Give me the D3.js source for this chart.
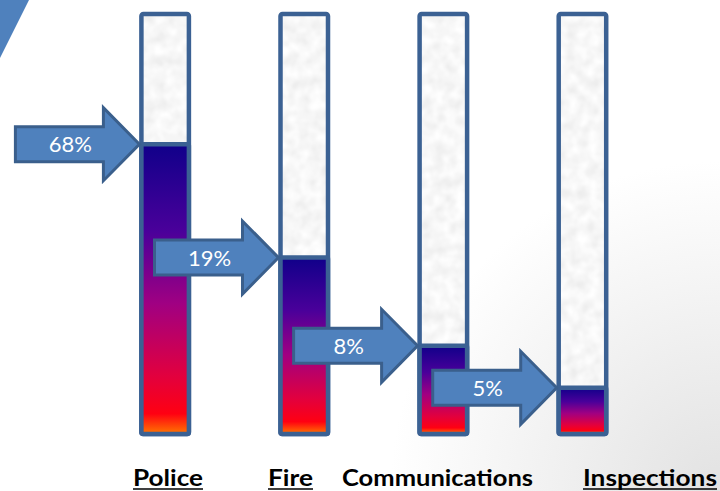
<!DOCTYPE html>
<html lang='en'>
	<head>
		<meta charset='utf-8'>
		<title>Share by department</title>
		<script src="https://d3js.org/d3.v7.min.js"></script>
		<style type="text/css">
			body { margin: 0; background: #fff; }
			svg { display: block; }
		</style>
	</head>
	<body>
		<script type='text/javascript'>
			//Data
			var departments = ["Police", "Fire", "Communications", "Inspections"];
			var shares = [68, 19, 8, 5];                // arrow labels, %
			var fillLevels = [0.69, 0.42, 0.21, 0.11];  // level of the coloured fill
			var underlined = [true, true, false, true];

			//Width and height
			var w = 720;
			var h = 491;

			var svg = d3.select("body")
						.append("svg")
						.attr("width", w)
						.attr("height", h);

			var defs = svg.append("defs");

			//Background: white, greying towards the bottom right corner
			var bg = defs.append("radialGradient")
						 .attr("id", "bg")
						 .attr("gradientUnits", "userSpaceOnUse")
						 .attr("cx", w).attr("cy", h).attr("r", 330);
			bg.append("stop").attr("offset", 0).attr("stop-color", "#e2e2e2");
			bg.append("stop").attr("offset", 1).attr("stop-color", "#ffffff");
			svg.append("rect").attr("width", w).attr("height", h).attr("fill", "url(#bg)");

			//Corner triangle
			svg.append("path")
			   .attr("d", "M0,0L29,0L0,58Z")
			   .attr("fill", "#4f81bd");

			//Fill gradient (blue -> purple -> red -> orange)
			var grad = defs.append("linearGradient")
						   .attr("id", "heat")
						   .attr("x1", 0).attr("y1", 0).attr("x2", 0).attr("y2", 1);
			[[0, "#10008a"], [0.3, "#4a009a"], [0.55, "#a00082"], [0.8, "#e2003e"],
			 [0.93, "#ff0012"], [1, "#ff7800"]].forEach(function(s) {
				grad.append("stop").attr("offset", s[0]).attr("stop-color", s[1]);
			});

			//Mottled grey texture for the empty part
			var tex = defs.append("filter")
						  .attr("id", "tex")
						  .attr("x", 0).attr("y", 0).attr("width", 1).attr("height", 1);
			tex.append("feTurbulence")
			   .attr("type", "fractalNoise")
			   .attr("baseFrequency", 0.09)
			   .attr("numOctaves", 3)
			   .attr("seed", 4);
			tex.append("feColorMatrix")
			   .attr("type", "matrix")
			   .attr("values", "0.26 0 0 0 0.8  0.26 0 0 0 0.8  0.26 0 0 0 0.8  0 0 0 0 1");
			tex.append("feGaussianBlur").attr("stdDeviation", 0.8);

			//Scales
			var x = d3.scaleBand()
					  .domain(departments)
					  .range([141.4, 606.2])
					  .paddingInner(0.6585)
					  .paddingOuter(0);

			var y = d3.scaleLinear()
					  .domain([0, 1])
					  .range([434, 14]);

			var border = "#3b6193";
			var bw = 4.5;

			var bars = svg.selectAll("g.bar")
						  .data(departments)
						  .enter()
						  .append("g")
						  .attr("class", "bar");

			//Empty tube
			bars.append("rect")
				.attr("x", function(d) { return x(d); })
				.attr("y", y(1))
				.attr("width", x.bandwidth())
				.attr("height", y(0) - y(1))
				.attr("filter", "url(#tex)");
			bars.append("rect")
				.attr("x", function(d) { return x(d); })
				.attr("y", y(1))
				.attr("width", x.bandwidth())
				.attr("height", y(0) - y(1))
				.attr("rx", 2)
				.attr("fill", "none")
				.attr("stroke", border)
				.attr("stroke-width", bw);

			//Coloured fill
			bars.append("rect")
				.attr("x", function(d) { return x(d); })
				.attr("y", function(d, i) { return y(fillLevels[i]); })
				.attr("width", x.bandwidth())
				.attr("height", function(d, i) { return y(0) - y(fillLevels[i]); })
				.attr("rx", 1.5)
				.attr("fill", "url(#heat)")
				.attr("stroke", border)
				.attr("stroke-width", bw);

			//Arrows pointing at each fill level
			var arrowLen = 124, headLen = 36, shaftHalf = 17.5, headHalf = 36.5;
			function arrowPath(tx, ty) {
				var sx = tx - arrowLen, hx = tx - headLen;
				return "M" + sx + "," + (ty - shaftHalf) +
					   "L" + hx + "," + (ty - shaftHalf) +
					   "L" + hx + "," + (ty - headHalf) +
					   "L" + tx + "," + ty +
					   "L" + hx + "," + (ty + headHalf) +
					   "L" + hx + "," + (ty + shaftHalf) +
					   "L" + sx + "," + (ty + shaftHalf) + "Z";
			}

			var arrows = svg.selectAll("g.arrow")
							.data(departments)
							.enter()
							.append("g")
							.attr("class", "arrow");

			arrows.append("path")
				  .attr("d", function(d, i) { return arrowPath(x(d) - 2, y(fillLevels[i])); })
				  .attr("fill", "#4f81bd")
				  .attr("stroke", "#3a5f8c")
				  .attr("stroke-width", 3)
				  .attr("stroke-linejoin", "miter");

			arrows.append("text")
				  .attr("x", function(d) { return x(d) - 2 - 69; })
				  .attr("y", function(d, i) { return y(fillLevels[i]); })
				  .attr("dy", "0.36em")
				  .attr("text-anchor", "middle")
				  .attr("fill", "#ffffff")
				  .attr("font-family", "Lato, 'Open Sans', sans-serif")
				  .attr("font-size", 22)
				  .text(function(d, i) { return shares[i] + "%"; });

			//Department names, set like a line of text under the tubes
			var labelX = [133, 268, 342, 583];
			var labelW = [70, 45, 191, 134];
			var baseline = 486;

			var labels = svg.selectAll("g.label")
							.data(departments)
							.enter()
							.append("g")
							.attr("class", "label");

			labels.append("text")
				  .attr("x", function(d, i) { return labelX[i]; })
				  .attr("y", baseline)
				  .attr("textLength", function(d, i) { return labelW[i]; })
				  .attr("lengthAdjust", "spacingAndGlyphs")
				  .attr("font-family", "Lato, 'Open Sans', sans-serif")
				  .attr("font-weight", "bold")
				  .attr("font-size", 22)
				  .attr("fill", "#000")
				  .text(function(d) { return d; });

			labels.filter(function(d, i) { return underlined[i]; })
				  .append("line")
				  .attr("x1", function(d) { return labelX[departments.indexOf(d)]; })
				  .attr("x2", function(d) { var i = departments.indexOf(d); return labelX[i] + labelW[i]; })
				  .attr("y1", baseline + 3)
				  .attr("y2", baseline + 3)
				  .attr("stroke", "#000")
				  .attr("stroke-width", 1.6);
		</script>
	</body>
</html>
